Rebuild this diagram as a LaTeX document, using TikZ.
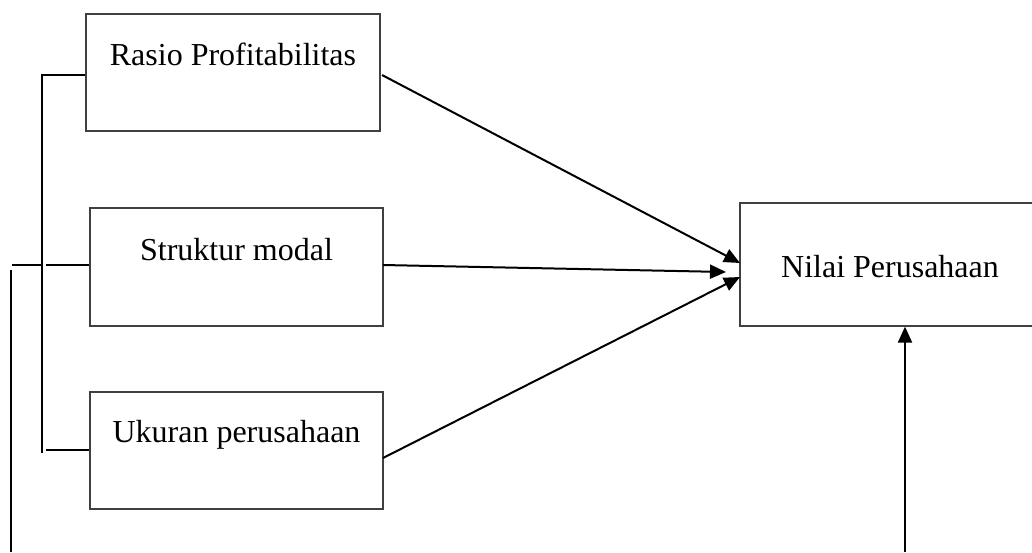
\documentclass[tikz,border=0pt]{standalone}
\usepackage{fontspec}
\setmainfont{Liberation Serif}
\usetikzlibrary{arrows.meta}
\begin{document}
\begin{tikzpicture}[x=0.5pt,y=-0.5pt,
  box/.style={draw=black!75,line width=0.6pt,rectangle,inner sep=0pt},
  lbl/.style={anchor=base,inner sep=0pt,font=\fontsize{16}{19}\selectfont},
  conn/.style={draw=black,line width=1pt},
  arr/.style={conn,-{Triangle[length=8pt,width=7pt]}}]
\useasboundingbox (0,0) rectangle (1032,552);
% boxes
\node[box,minimum width=147pt,minimum height=58.5pt] (r1) at (233,72.5) {};
\node[box,minimum width=146.5pt,minimum height=59pt] (r2) at (236.5,267) {};
\node[box,minimum width=146.5pt,minimum height=58.5pt] (r3) at (236.5,450.5) {};
\node[box,minimum width=150pt,minimum height=61.5pt] (nv) at (890,264.5) {};
% labels
\node[lbl] (t1) at (233,65) {Rasio Profitabilitas};
\node[lbl] (t2) at (236.5,260) {Struktur modal};
\node[lbl] (t3) at (236.5,442) {Ukuran perusahaan};
\node[lbl] (t4) at (890,277) {Nilai Perusahaan};
% coordinates
\coordinate (a1s) at (382,75);
\coordinate (a1e) at (740,263);
\coordinate (a2s) at (383,265);
\coordinate (a2e) at (726,272);
\coordinate (a3s) at (383,458);
\coordinate (a3e) at (740,277);
\coordinate (up) at (905,552);
\coordinate (b1) at (42,75);
\coordinate (b2) at (42,453);
\coordinate (b3) at (46,265);
\coordinate (b4) at (46,450);
\coordinate (l1) at (12,265);
\coordinate (l2) at (42,265);
\coordinate (o1) at (11,270);
\coordinate (o2) at (11,552);
% arrows
\draw[arr] (a1s) -- (a1e);
\draw[arr] (a2s) -- (a2e);
\draw[arr] (a3s) -- (a3e);
\draw[arr] (up) -- (up |- nv.south);
% bracket
\draw[conn] (r1.west |- b1) -- (b1) -- (b2);
\draw[conn] (b3) -- (r2.west |- b3);
\draw[conn] (b4) -- (r3.west |- b4);
\draw[conn] (l1) -- (l2);
\draw[conn] (o1) -- (o2);
\end{tikzpicture}
\end{document}
